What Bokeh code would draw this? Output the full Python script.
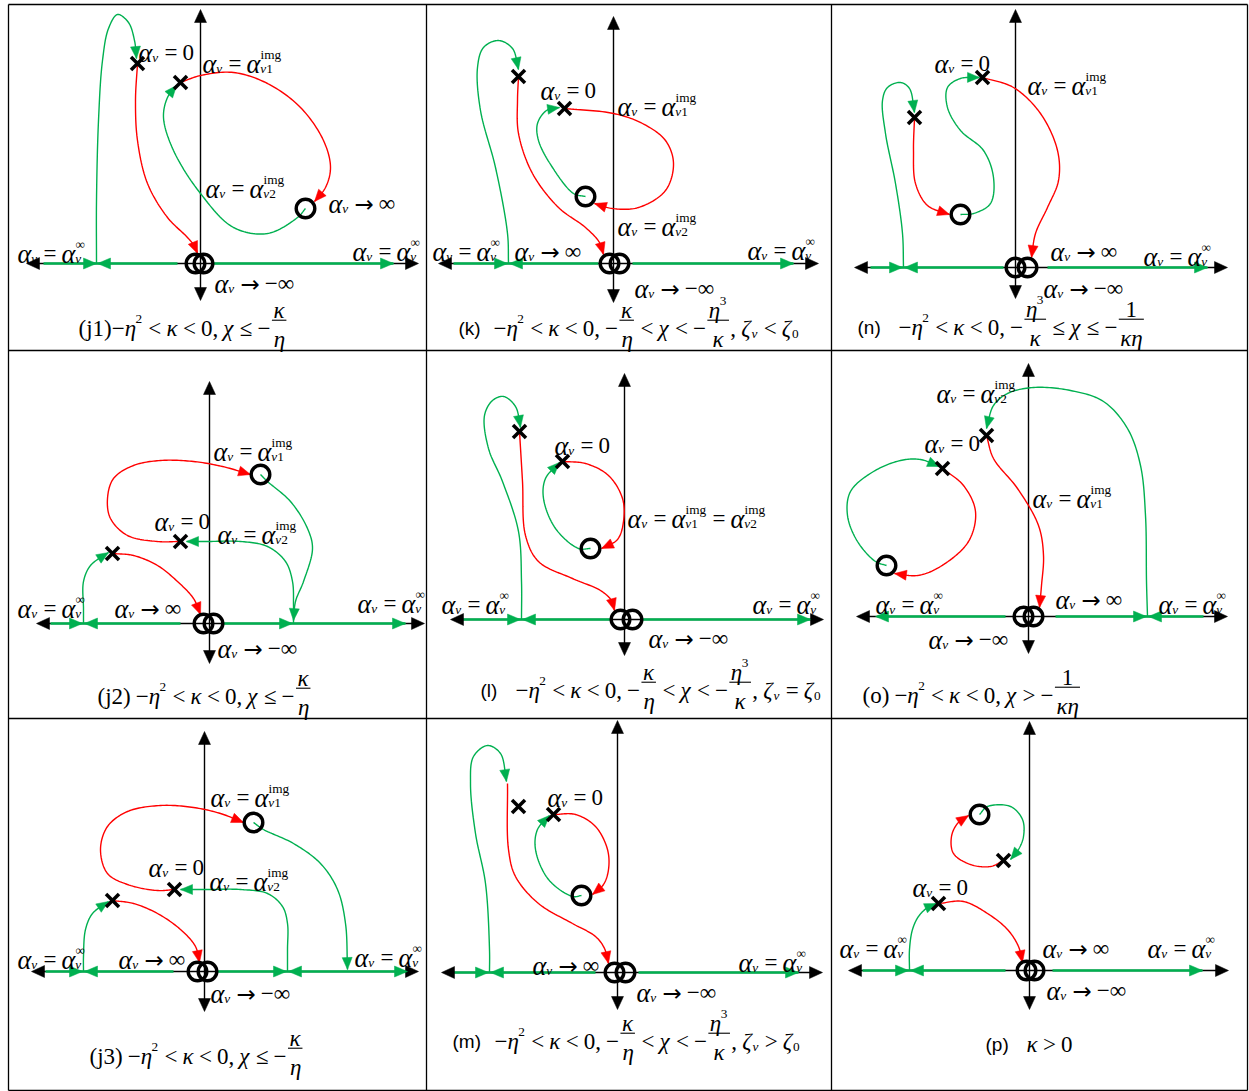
import numpy as np
from bokeh.plotting import figure
from bokeh.models import Range1d, ColumnDataSource
from bokeh.embed import file_html
from bokeh.resources import INLINE

W, H = 1249, 1091
RED = "#ff0000"
GREEN = "#00b050"
BLACK = "#000000"

# ---------------- table grid ----------------
GRID_X = [8, 426, 831, 1247]
GRID_Y = [4, 350, 718, 1090]

# ---------------- panel axes ----------------
PANELS = ["j1", "k", "n", "j2", "l", "o", "j3", "m", "p"]
AXIS_X = [200, 613, 1015, 209, 624, 1028, 204, 617, 1029]
AXIS_Y = [263, 263, 267, 623, 619, 616, 971, 972, 970]
AXIS_LEFT = [26, 438, 854, 36, 450, 856, 31, 441, 848]
AXIS_RIGHT = [418, 818, 1227, 424, 823, 1227, 418, 822, 1228]
AXIS_TOP = [9, 16, 9, 381, 373, 363, 731, 720, 721]
AXIS_BOTTOM = [300, 302, 298, 663, 655, 653, 1011, 1009, 1009]

# green parts of the real axis (x0, x1)
GREEN_SEGS = {
    "j1": [(43, 177), (213, 393)],
    "k": [(453, 598), (632, 793)],
    "n": [(870, 1003), (1047, 1207)],
    "j2": [(50, 180), (223, 405)],
    "l": [(462, 610), (642, 810)],
    "o": [(877, 1005), (1055, 1203)],
    "j3": [(45, 173), (217, 407)],
    "m": [(452, 595), (638, 798)],
    "p": [(862, 1005), (1052, 1202)],
}
# arrows on the real axis: (tip x, direction)
GREEN_ARROWS = {
    "j1": [(96, 1), (97, -1), (393, 1)],
    "k": [(507, 1), (509, -1), (793, 1)],
    "n": [(902, 1), (904, -1), (1207, 1)],
    "j2": [(82, 1), (84, -1), (292, 1), (405, 1)],
    "l": [(520, 1), (522, -1), (810, 1)],
    "o": [(875, -1), (1146, 1), (1148, -1)],
    "j3": [(82, 1), (84, -1), (286, 1), (288, -1), (407, 1)],
    "m": [(488, 1), (490, -1), (798, 1)],
    "p": [(908, 1), (910, -1), (1202, 1)],
}
# double zero at the origin: x offsets of the two rings
ORIGIN_RINGS = {
    "j1": [-5, 3], "k": [-4, 6], "n": [0, 12], "j2": [-6, 4], "l": [-4, 8],
    "o": [-5, 5], "j3": [-7, 3], "m": [-3, 8], "p": [-3, 5],
}

POLES = {
    "j1": [(137, 63), (180, 82)],
    "k": [(518, 76), (564, 108)],
    "n": [(914, 117), (982, 77)],
    "j2": [(112, 553), (180, 541)],
    "l": [(519, 431), (562, 461)],
    "o": [(986, 435), (942, 468)],
    "j3": [(112, 900), (174, 889)],
    "m": [(518, 806), (553, 814)],
    "p": [(938, 903), (1003, 860)],
}
ZEROS = {
    "j1": [(305, 208)], "k": [(585, 196)], "n": [(960, 214)],
    "j2": [(260, 474)], "l": [(590, 548)], "o": [(886, 565)],
    "j3": [(253, 822)], "m": [(581, 895)], "p": [(979, 814)],
}

# locus branches (each ends with an arrow head)
RED_PATHS = {
    "j1": [[(137, 63), (135, 100), (137, 140), (147, 183), (167, 217), (187, 237), (195, 247), (197, 253)],
           [(180, 82), (200, 75), (233, 72), (267, 83), (300, 107), (323, 140), (330, 167), (325, 187), (314, 201)]],
    "k": [[(518, 76), (517, 100), (518, 133), (532, 173), (558, 207), (585, 227), (599, 242), (603, 254)],
          [(564, 108), (613, 113), (642, 123), (665, 140), (673, 163), (665, 190), (638, 207), (612, 208), (594, 203)]],
    "n": [[(914, 117), (913, 150), (915, 183), (927, 205), (949, 214)],
          [(982, 77), (1013, 87), (1040, 113), (1057, 150), (1058, 180), (1047, 207), (1035, 233), (1031, 257)]],
    "j2": [[(180, 541), (157, 541), (127, 535), (110, 518), (107, 498), (113, 478), (133, 465), (160, 460), (193, 461), (222, 466), (250, 474)],
           [(112, 553), (133, 555), (157, 565), (177, 581), (193, 598), (200, 614)]],
    "l": [[(519, 431), (522, 481), (525, 535), (538, 561), (572, 578), (600, 590), (611, 600), (614, 610)],
          [(562, 461), (585, 463), (608, 475), (622, 498), (623, 521), (617, 539), (601, 548)]],
    "o": [[(986, 435), (993, 458), (1017, 488), (1038, 525), (1043, 555), (1041, 585), (1039, 607)],
          [(942, 468), (963, 485), (975, 511), (968, 541), (940, 566), (917, 575), (894, 573)]],
    "j3": [[(174, 889), (157, 890), (127, 884), (107, 873), (100, 849), (107, 826), (127, 811), (160, 805), (193, 807), (220, 813), (243, 822)],
           [(112, 900), (133, 903), (157, 913), (180, 929), (195, 946), (199, 962)]],
    "m": [[(507, 783), (508, 849), (515, 876), (538, 903), (572, 923), (595, 936), (604, 948), (608, 963)],
          [(553, 814), (575, 814), (595, 826), (607, 849), (608, 869), (603, 884), (592, 894)]],
    "p": [[(938, 903), (963, 901), (987, 913), (1007, 929), (1018, 946), (1022, 962)],
          [(1003, 860), (990, 866), (970, 864), (953, 853), (951, 836), (957, 823), (968, 815)]],
}
GREEN_PATHS = {
    "j1": [[(96, 263), (96, 200), (98, 120), (102, 60), (108, 28), (117, 14), (128, 22), (134, 40), (136, 58)],
           [(305, 208), (297, 217), (267, 233), (233, 227), (200, 193), (173, 150), (163, 117), (167, 97), (176, 85)]],
    "k": [[(508, 263), (507, 233), (495, 167), (480, 110), (477, 67), (483, 47), (498, 40), (512, 48), (518, 69)],
          [(585, 196), (573, 193), (552, 167), (538, 140), (537, 123), (546, 110), (559, 107)]],
    "n": [[(903, 267), (902, 233), (895, 183), (885, 133), (882, 100), (887, 87), (900, 82), (909, 88), (914, 112)],
          [(960, 214), (973, 213), (990, 203), (993, 177), (983, 150), (960, 130), (947, 107), (947, 87), (960, 78), (979, 77)]],
    "j2": [[(260, 474), (267, 481), (290, 501), (307, 528), (312, 548), (303, 581), (295, 601), (293, 620)],
           [(293, 623), (293, 605), (292, 581), (285, 561), (267, 546), (240, 541), (207, 541), (186, 541)],
           [(83, 623), (83, 608), (83, 581), (90, 565), (108, 552)]],
    "l": [[(521, 619), (521, 581), (518, 531), (502, 481), (488, 448), (484, 415), (492, 400), (503, 396), (515, 406), (520, 427)],
          [(590, 548), (578, 548), (555, 528), (543, 498), (545, 478), (559, 462)]],
    "o": [[(1147, 616), (1146, 581), (1145, 515), (1140, 465), (1127, 428), (1103, 401), (1070, 390), (1033, 387), (1007, 393), (993, 405), (986, 428)],
          [(886, 565), (875, 561), (857, 541), (847, 515), (850, 491), (873, 471), (900, 460), (920, 459), (939, 466)]],
    "j3": [[(253, 822), (263, 829), (293, 843), (320, 863), (337, 889), (345, 923), (347, 969)],
           [(287, 971), (287, 949), (287, 923), (282, 906), (267, 893), (240, 889), (207, 889), (180, 889)],
           [(83, 971), (83, 956), (85, 929), (92, 913), (108, 901)]],
    "m": [[(489, 972), (489, 949), (485, 883), (475, 833), (470, 783), (473, 756), (487, 745), (500, 753), (506, 781)],
          [(581, 895), (572, 896), (548, 879), (535, 849), (537, 829), (549, 815)]],
    "p": [[(909, 970), (909, 949), (912, 929), (918, 916), (927, 907), (936, 903)],
          [(979, 814), (987, 806), (1010, 806), (1022, 819), (1023, 836), (1018, 849), (1010, 859)]],
}

# ---------------- texts ----------------
LABEL_TEXT = {
    "eq0": "α_{v} = 0",
    "img1": "α_{v} = α_{v1}^{img}",
    "img2": "α_{v} = α_{v2}^{img}",
    "img12": "α_{v} = α_{v1}^{img} = α_{v2}^{img}",
    "inf": "α_{v} = α_{v}^{∞}",
    "toinf": "α_{v} → ∞",
    "tominf": "α_{v} → −∞",
}
LABELS = {
    "j1": [("eq0", 138, 52), ("img1", 202, 63), ("img2", 205, 188), ("toinf", 328, 203),
           ("inf", 17, 253), ("inf", 352, 251), ("tominf", 214, 283)],
    "k": [("eq0", 540, 90), ("img1", 617, 106), ("img2", 617, 226), ("inf", 432, 251),
          ("toinf", 514, 251), ("inf", 747, 250), ("tominf", 634, 288)],
    "n": [("eq0", 934, 63), ("img1", 1027, 85), ("toinf", 1050, 251), ("inf", 1143, 256),
          ("tominf", 1043, 288)],
    "j2": [("img1", 213, 451), ("eq0", 154, 521), ("img2", 217, 534), ("inf", 17, 608),
           ("toinf", 114, 608), ("inf", 357, 603), ("tominf", 217, 648)],
    "l": [("eq0", 554, 445), ("img12", 627, 518), ("inf", 441, 604), ("inf", 752, 604),
          ("tominf", 648, 638)],
    "o": [("img2", 936, 393), ("eq0", 924, 443), ("img1", 1032, 498), ("toinf", 1055, 599),
          ("inf", 875, 604), ("inf", 1158, 604), ("tominf", 928, 639)],
    "j3": [("img1", 210, 797), ("eq0", 148, 867), ("img2", 209, 881), ("inf", 17, 959),
           ("toinf", 118, 959), ("inf", 354, 957), ("tominf", 210, 993)],
    "m": [("eq0", 547, 797), ("toinf", 532, 965), ("inf", 738, 962), ("tominf", 636, 992)],
    "p": [("eq0", 912, 887), ("inf", 839, 948), ("toinf", 1042, 948), ("inf", 1147, 948),
          ("tominf", 1046, 990)],
}
# caption: (sans prefix, prefix x, math text, math x, baseline y)
CAPTIONS = {
    "j1": ("", 0, r"(j1)−η^{2} < κ < 0, χ ≤ −\frac{κ}{η}", 78, 328),
    "k": ("(k)", 458, r"−η^{2} < κ < 0, −\frac{κ}{η} < χ < −\frac{η^{3}}{κ}, ζ_{v} < ζ_{0}", 493, 328),
    "n": ("(n)", 857, r"−η^{2} < κ < 0, −\frac{η^{3}}{κ} ≤ χ ≤ −\frac{1}{κη}", 898, 327),
    "j2": ("", 0, r"(j2) −η^{2} < κ < 0, χ ≤ −\frac{κ}{η}", 97, 696),
    "l": ("(l)", 480, r"−η^{2} < κ < 0, −\frac{κ}{η} < χ < −\frac{η^{3}}{κ}, ζ_{v} = ζ_{0}", 515, 690),
    "o": ("", 0, r"(o) −η^{2} < κ < 0, χ > −\frac{1}{κη}", 862, 695),
    "j3": ("", 0, r"(j3) −η^{2} < κ < 0, χ ≤ −\frac{κ}{η}", 89, 1056),
    "m": ("(m)", 452, r"−η^{2} < κ < 0, −\frac{κ}{η} < χ < −\frac{η^{3}}{κ}, ζ_{v} > ζ_{0}", 494, 1041),
    "p": ("(p)", 985, r"κ > 0", 1026, 1044),
}

SERIF = "Liberation Serif"
SANS = "Liberation Sans"
ARROW_FONT = "DejaVu Sans"
FS_LABEL = 23
FS_CAP = 23
FS_PREFIX = 19
SCRIPT = 0.58
SUB_DROP = 0.22
SUP_RISE = 0.40
ITALIC = set("αvκηχζ")
CHAR_SCALE = {"α": 1.15}
SERIF_W = {" ": 0.22, "=": 0.564, "<": 0.564, ">": 0.564, "≤": 0.549, "−": 0.564, "→": 0.838,
           "∞": 0.713, "(": 0.333, ")": 0.333, ",": 0.25, "i": 0.278, "m": 0.778, "g": 0.5,
           "j": 0.278, "v": 0.444, "α": 0.6, "κ": 0.5, "η": 0.46, "χ": 0.5, "ζ": 0.45, "o": 0.5}
SANS_W = {"(": 0.333, ")": 0.333, "k": 0.5, "n": 0.556, "l": 0.222, "m": 0.833, "p": 0.556}


def cwidth(ch, font):
    if font == SANS:
        return SANS_W.get(ch, 0.55)
    return SERIF_W.get(ch, 0.5)


def grab(s, i):
    depth = 0
    for j in range(i, len(s)):
        if s[j] == "{":
            depth += 1
        elif s[j] == "}":
            depth -= 1
            if depth == 0:
                return s[i + 1:j], j + 1
    raise ValueError(s)


def parse(s):
    toks = []
    i = 0
    while i < len(s):
        if s.startswith("\\frac", i):
            num, i = grab(s, i + 5)
            den, i = grab(s, i)
            toks.append(("frac", num, den))
        elif s[i] in "_^":
            arg, j = grab(s, i + 1)
            if toks and toks[-1][0] == "scr":
                sub, sup = toks[-1][1], toks[-1][2]
            else:
                sub, sup = "", ""
                toks.append(None)
            if s[i] == "_":
                sub = arg
            else:
                sup = arg
            toks[-1] = ("scr", sub, sup)
            i = j
        else:
            toks.append(("ch", s[i]))
            i += 1
    return toks


def typeset(s, x, y, size, font, out, rules):
    cx = x
    for t in parse(s):
        if t[0] == "ch":
            ch = t[1]
            w = cwidth(ch, font) * size
            if ch != " ":
                f = ARROW_FONT if ch == "→" else font
                out.append([cx, y, ch, size * CHAR_SCALE.get(ch, 1.0),
                            "italic" if ch in ITALIC else "normal", f, w])
            cx += w
        elif t[0] == "scr":
            ss = size * SCRIPT
            w1 = w2 = 0.0
            if t[1]:
                w1 = typeset(t[1], cx, y + SUB_DROP * size, ss, font, out, rules)
            if t[2]:
                w2 = typeset(t[2], cx + 0.01 * size, y - SUP_RISE * size, ss, font, out, rules) + 0.01 * size
            cx += max(w1, w2) + 0.05 * size
        else:
            wn = typeset(t[1], 0, 0, size, font, [], [])
            wd = typeset(t[2], 0, 0, size, font, [], [])
            wf = max(wn, wd) + 0.25 * size
            ly = y - 0.36 * size
            typeset(t[1], cx + (wf - wn) / 2, ly - 0.42 * size, size, font, out, rules)
            typeset(t[2], cx + (wf - wd) / 2, ly + 0.82 * size, size, font, out, rules)
            rules.append((cx + 0.06 * size, ly, cx + wf - 0.06 * size, ly))
            cx += wf
    return cx - x


def merge(pieces):
    res = []
    for pc in pieces:
        if res:
            q = res[-1]
            if (q[1] == pc[1] and q[3] == pc[3] and q[4] == pc[4] and q[5] == pc[5]
                    and abs(q[0] + q[6] - pc[0]) < 0.01):
                q[2] += pc[2]
                q[6] += pc[6]
                continue
        res.append(list(pc))
    return res


def cr_segment(p0, p1, p2, p3, n, alpha=0.5):
    def tj(ti, a, b):
        return ti + max(np.hypot(*(b - a)), 1e-6) ** alpha
    t0 = 0.0
    t1 = tj(t0, p0, p1)
    t2 = tj(t1, p1, p2)
    t3 = tj(t2, p2, p3)
    t = np.linspace(t1, t2, n, endpoint=False)[:, None]
    a1 = (t1 - t) / (t1 - t0) * p0 + (t - t0) / (t1 - t0) * p1
    a2 = (t2 - t) / (t2 - t1) * p1 + (t - t1) / (t2 - t1) * p2
    a3 = (t3 - t) / (t3 - t2) * p2 + (t - t2) / (t3 - t2) * p3
    b1 = (t2 - t) / (t2 - t0) * a1 + (t - t0) / (t2 - t0) * a2
    b2 = (t3 - t) / (t3 - t1) * a2 + (t - t1) / (t3 - t1) * a3
    return (t2 - t) / (t2 - t1) * b1 + (t - t1) / (t2 - t1) * b2


def smooth(pts, n=16):
    P = np.asarray(pts, dtype=float)
    Q = np.vstack([2 * P[0] - P[1], P, 2 * P[-1] - P[-2]])
    segs = [cr_segment(Q[i - 1], Q[i], Q[i + 1], Q[i + 2], n) for i in range(1, len(Q) - 2)]
    segs.append(P[-1:])
    return np.vstack(segs)


def head(tip, back, L=12.0, hw=5.0):
    tip = np.asarray(tip, float)
    d = tip - np.asarray(back, float)
    u = d / np.hypot(*d)
    nrm = np.array([-u[1], u[0]])
    b = tip - L * u
    pts = [tip, b + hw * nrm, b - hw * nrm]
    return [q[0] for q in pts], [q[1] for q in pts]


p = figure(width=W, height=H, x_range=Range1d(0, W), y_range=Range1d(H, 0),
           output_backend="svg", toolbar_location=None, min_border=0,
           x_axis_type=None, y_axis_type=None)
p.outline_line_color = None
p.background_fill_color = "white"
p.border_fill_color = "white"

# grid of the table
gx0, gx1, gy0, gy1 = [], [], [], []
for gx in GRID_X:
    gx0.append(gx); gx1.append(gx); gy0.append(GRID_Y[0]); gy1.append(GRID_Y[-1])
for gy in GRID_Y:
    gx0.append(GRID_X[0]); gx1.append(GRID_X[-1]); gy0.append(gy); gy1.append(gy)
p.segment(gx0, gy0, gx1, gy1, line_color=BLACK, line_width=1.3)

ax_x0, ax_y0, ax_x1, ax_y1 = [], [], [], []
tri_xs, tri_ys, tri_col = [], [], []
gs_x0, gs_x1, gs_y = [], [], []
red_xs, red_ys, grn_xs, grn_ys = [], [], [], []
ring_x, ring_y = [], []
pole_xs, pole_ys = [], []
pieces, rules = [], []

for i, name in enumerate(PANELS):
    ox, oy = AXIS_X[i], AXIS_Y[i]
    lt, rt, tp, bt = AXIS_LEFT[i], AXIS_RIGHT[i], AXIS_TOP[i], AXIS_BOTTOM[i]
    ax_x0 += [lt + 6, ox]
    ax_x1 += [rt - 6, ox]
    ax_y0 += [oy, tp + 6]
    ax_y1 += [oy, bt - 6]
    for tip, back in [((lt, oy), (lt + 10, oy)), ((rt, oy), (rt - 10, oy)),
                      ((ox, tp), (ox, tp + 10)), ((ox, bt), (ox, bt - 10))]:
        xs, ys = head(tip, back, L=13, hw=6)
        tri_xs.append(xs); tri_ys.append(ys); tri_col.append(BLACK)
    for a, b in GREEN_SEGS[name]:
        gs_x0.append(a); gs_x1.append(b); gs_y.append(oy)
    for tx, d in GREEN_ARROWS[name]:
        xs, ys = head((tx, oy), (tx - 10 * d, oy), L=13, hw=5.5)
        tri_xs.append(xs); tri_ys.append(ys); tri_col.append(GREEN)
    for paths, color, lx, ly in [(RED_PATHS[name], RED, red_xs, red_ys),
                                 (GREEN_PATHS[name], GREEN, grn_xs, grn_ys)]:
        for path in paths:
            c = smooth(path)
            lx.append(list(c[:, 0])); ly.append(list(c[:, 1]))
            tip = c[-1]
            k = len(c) - 2
            while k > 0 and np.hypot(*(c[k] - tip)) < 9:
                k -= 1
            xs, ys = head(tip, c[k], L=12, hw=5)
            tri_xs.append(xs); tri_ys.append(ys); tri_col.append(color)
    for dx in ORIGIN_RINGS[name]:
        ring_x.append(ox + dx); ring_y.append(oy)
    for zx, zy in ZEROS[name]:
        ring_x.append(zx); ring_y.append(zy)
    for px_, py_ in POLES[name]:
        a = 6.5
        pole_xs += [[px_ - a, px_ + a], [px_ - a, px_ + a]]
        pole_ys += [[py_ - a, py_ + a], [py_ + a, py_ - a]]
    for kind, lx_, ly_ in LABELS[name]:
        typeset(LABEL_TEXT[kind], lx_, ly_, FS_LABEL, SERIF, pieces, rules)
    pre, pre_x, math, mx, my = CAPTIONS[name]
    if pre:
        typeset(pre, pre_x, my, FS_PREFIX, SANS, pieces, rules)
    typeset(math, mx, my, FS_CAP, SERIF, pieces, rules)

p.segment(ax_x0, ax_y0, ax_x1, ax_y1, line_color=BLACK, line_width=1.4)
p.segment(gs_x0, gs_y, gs_x1, gs_y, line_color=GREEN, line_width=2.4)
p.multi_line(red_xs, red_ys, line_color=RED, line_width=1.4)
p.multi_line(grn_xs, grn_ys, line_color=GREEN, line_width=1.4)
p.patches(tri_xs, tri_ys, fill_color=tri_col, line_color=tri_col, line_width=0.5)
p.circle(ring_x, ring_y, radius=9.3, fill_color=None, line_color=BLACK, line_width=3.4)
p.multi_line(pole_xs, pole_ys, line_color=BLACK, line_width=3.6)

runs = merge(pieces)
src = ColumnDataSource(dict(
    x=[r[0] for r in runs], y=[r[1] for r in runs], text=[r[2] for r in runs],
    size=["%.1fpx" % r[3] for r in runs], style=[r[4] for r in runs], font=[r[5] for r in runs]))
p.text(x="x", y="y", text="text", text_font_size="size", text_font_style="style",
       text_font="font", text_baseline="alphabetic", text_align="left",
       text_color=BLACK, source=src)
p.segment([r[0] for r in rules], [r[1] for r in rules], [r[2] for r in rules], [r[3] for r in rules],
          line_color=BLACK, line_width=1.1)

open("out.html", "w").write(file_html(p, INLINE))
